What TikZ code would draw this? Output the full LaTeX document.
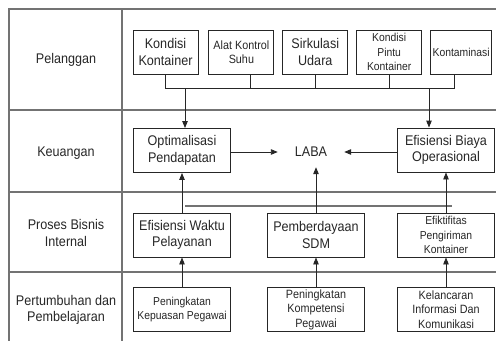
\documentclass[tikz,border=0pt]{standalone}
\usepackage{fontspec}
\setmainfont{Liberation Sans}[FakeStretch=0.9]
\usetikzlibrary{arrows.meta}
\usetikzlibrary{positioning}

\newcommand{\bigtxt}{\fontsize{14}{16.5}\selectfont}
\newcommand{\smalltxt}{\fontsize{11.5}{14.5}\selectfont}
\newcommand{\midtxt}{\fontsize{12}{14.5}\selectfont}

\begin{document}
\begin{tikzpicture}[
        x=1pt, y=-1pt,
        node distance=8pt,
        block/.style={rectangle, draw=black!85, line width=0.9pt, minimum width=97pt, minimum height=44pt, inner sep=1pt, align=center, text=black!85, font=\bigtxt},
        topbox/.style={block, minimum width=65pt},
        label/.style={align=center, text=black!85, font=\bigtxt},
        grid/.style={draw=black!55, line width=1.6pt},
        link/.style={draw=black!85, line width=0.9pt},
        arrow/.style={link, -{Triangle[length=7pt,width=5.5pt]}}
        ]
        \useasboundingbox (0,0) rectangle (496,341);

        % table lines
        \draw[grid] (496,9) -- (9,9) -- (9,341);
        \draw[grid] (122,9) -- (122,341);
        \draw[grid] (9,110) -- (496,110);
        \draw[grid] (9,192) -- (496,192);
        \draw[grid] (9,272) -- (496,272);
        \draw[grid] (185,206) -- (452,206);

        % perspective labels
        \node (pel)  [label] at (66,60)  {Pelanggan};
        \node (keu)  [label] at (66,153) {Keuangan};
        \node (pbi)  [label] at (66,233) {Proses Bisnis\\Internal};
        \node (ptb)  [label] at (66,310) {Pertumbuhan dan\\Pembelajaran};

        % Pelanggan
        \node (kk) [topbox] at (165.5,52) {Kondisi\\Kontainer};
        \node (ak) [topbox, font=\midtxt, right=10pt of kk] {Alat Kontrol\\Suhu};
        \node (su) [topbox, right=of ak] {Sirkulasi\\Udara};
        \node (kp) [topbox, font=\smalltxt, right=of su] {Kondisi\\Pintu\\Kontainer};
        \node (km) [topbox, font=\smalltxt, minimum width=61pt, right=of kp] {Kontaminasi};

        % Keuangan
        \node (opt)  [block] at (182,150.5) {Optimalisasi\\Pendapatan};
        \node (laba) [label, minimum width=66pt, minimum height=30pt] at (311,152) {LABA};
        \node (eb)   [block] at (446,150) {Efisiensi Biaya\\Operasional};

        % Proses Bisnis Internal
        \node (ew)  [block] at (182,235) {Efisiensi Waktu\\Pelayanan};
        \node (sdm) [block] at (316,235) {Pemberdayaan\\SDM};
        \node (ep)  [block, font=\smalltxt] at (446,235) {Efiktifitas\\Pengiriman\\Kontainer};

        % Pertumbuhan dan Pembelajaran
        \node (pk)  [block, font=\smalltxt] at (182,309.5) {Peningkatan\\Kepuasan Pegawai};
        \node (pkp) [block, font=\midtxt] at (316,309.5) {Peningkatan\\Kompetensi\\Pegawai};
        \node (kic) [block, font=\midtxt] at (446,309.5) {Kelancaran\\Informasi Dan\\Komunikasi};

        % bus under the customer boxes
        \coordinate (bus) at (0,88);
        \coordinate (akstub) at ([xshift=9pt]ak.south);
        \coordinate (kmstub) at ([xshift=-7pt]km.south);
        \coordinate (busa) at (185,88);
        \coordinate (busb) at (429,88);
        \draw[link] (kk.south) -- (kk.south |- bus) -- (kmstub |- bus) -- (kmstub);
        \foreach \n in {akstub, su.south, kp.south}
            \draw[link] (\n) -- (\n |- bus);
        \draw[arrow] (busa) -- (busa |- opt.north);
        \draw[arrow] (busb) -- (busb |- eb.north);

        % to LABA
        \draw[arrow] (opt.east |- laba) -- (laba.west);
        \draw[arrow] (eb.west |- laba) -- (laba.east);
        \draw[arrow] (sdm.north) -- (sdm.north |- laba.south);

        % upward links
        \draw[arrow] (ew.north) -- (opt.south);
        \draw[arrow] (ep.north) -- (eb.south);
        \draw[arrow] (pk.north) -- (ew.south);
        \draw[arrow] (pkp.north) -- (sdm.south);
        \draw[arrow] (kic.north) -- (ep.south);

    \end{tikzpicture}
\end{document}
